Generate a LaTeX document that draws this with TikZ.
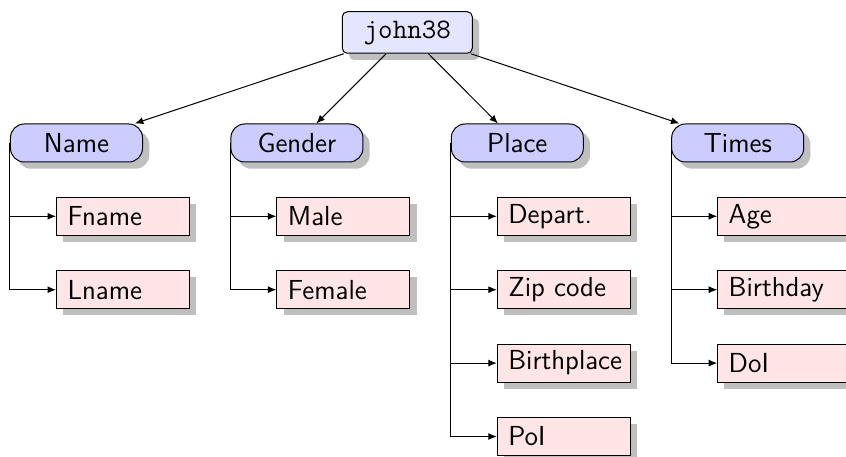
\documentclass[tikz,border=0pt]{standalone}
\usetikzlibrary{shadows,arrows.meta}
\definecolor{shadowgray}{gray}{0.75}
\tikzset{
  myshadow/.style={drop shadow={shadow xshift=2.7pt,shadow yshift=-2.7pt,opacity=1,fill=shadowgray}},
  bigfont/.style={font=\fontsize{11}{13}\selectfont},
  rootbox/.style={draw,fill=blue!10,rounded corners=2pt,minimum width=52pt,minimum height=16.6pt,inner sep=0pt,font=\fontsize{11.3}{13}\selectfont\ttfamily,myshadow},
  catbox/.style={draw,fill=blue!20,rounded corners=5.5pt,minimum width=52.8pt,minimum height=15.2pt,inner sep=0pt,font=\fontsize{11}{13}\selectfont\sffamily,myshadow},
  leafbox/.style={draw,fill=red!10,anchor=west,text width=44.4pt,inner xsep=4.4pt,inner ysep=0pt,minimum height=15.2pt,align=left,font=\fontsize{11}{13}\selectfont\sffamily,myshadow},
  conn/.style={-{Latex[length=3.4pt,width=2.8pt]}},
}
\begin{document}
\begin{tikzpicture}[x=0.4pt,y=-0.4pt]
\useasboundingbox (0,0) rectangle (846,457);
% nodes
\node[rootbox] (root) at (407.3,32.5) {john38};
\node[catbox] (name) at (76.5,143) {Name};
\node[catbox] (gender) at (296.9,143) {Gender};
\node[catbox] (place) at (517.3,143) {Place};
\node[catbox] (times) at (737.7,143) {Times};
% leaves
\node[leafbox] (fname) at (56,216.3) {Fname};
\node[leafbox] (lname) at (56,289.7) {Lname};
\node[leafbox] (male) at (276.4,216.3) {Male};
\node[leafbox] (female) at (276.4,289.7) {Female};
\node[leafbox] (depart) at (496.8,216.3) {Depart.};
\node[leafbox] (zip) at (496.8,289.7) {Zip code};
\node[leafbox] (birthplace) at (496.8,363.1) {Birthplace};
\node[leafbox] (poi) at (496.8,436.5) {PoI};
\node[leafbox] (age) at (717.2,216.3) {Age};
\node[leafbox] (birthday) at (717.2,289.7) {Birthday};
\node[leafbox] (doi) at (717.2,363.1) {DoI};
% connectors
\foreach \c in {name,gender,place,times}
  \draw[conn] (root) -- (\c);
\foreach \p/\c in {name/fname,name/lname,gender/male,gender/female,place/depart,place/zip,place/birthplace,place/poi,times/age,times/birthday,times/doi}
  \draw[conn] (\p.west) |- (\c.west);
\end{tikzpicture}
\end{document}
